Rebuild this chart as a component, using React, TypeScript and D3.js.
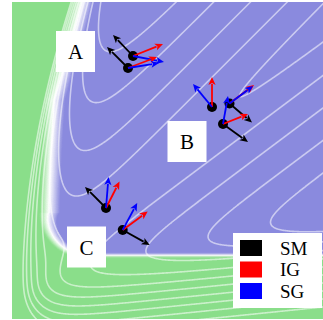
import { useMemo } from "react";
import * as d3 from "d3";

const WIDTH = 323;
const HEIGHT = 320;
const plot = { left: 12, top: 2, right: 323, bottom: 319 };

// data domain of the landscape
const xDomain = [0, 3.11];
const yDomain = [0, 3.17];

// two flanks of the valley meeting on a ridge
const ridgeAnchor = [1.51, 1.56];
const upperFlankNormal = [0.707, -0.707];
const lowerFlankNormal = [0.6, -0.8];
const flankSlope = 3.85;
const baseLevel = -2;

// steep wall on the left, softer wall at the bottom
const leftWallPoly = [0.37, 0.06, 0.045];
const leftWallLength = 0.17;
const bottomWallAnchor = [1.45, 0.58];
const bottomWallTilt = 0.23;
const bottomWallSlope = 15.6;
const bottomWallSoftness = 0.09;

// where the colour turns green
const greenEdgeY = [0, 0.6, 1.19, 1.69, 2.19, 2.69, 3.17];
const greenEdgeX = [0.27, 0.27, 0.28, 0.3, 0.33, 0.48, 0.61];
const greenFloor = 0.61;
const cornerRadius = 0.45;
const leftBand = 0.2;
const bottomBand = 0.05;

const levels = [-14, -13, -12, -11, -10, -9, -8, -7, -6, -5, -4, -3, -2, -1, 0, 1, 2, 3];

// points and their attribution vectors (dx, dy)
const pointX = [1.21, 1.16, 2.0, 2.175, 2.11, 0.94, 1.107];
const pointY = [2.63, 2.51, 2.12, 2.155, 1.95, 1.11, 0.89];
const smDx = [-0.2, -0.21, 0, 0.225, 0.25, -0.21, 0.27];
const smDy = [0.21, 0.21, 0, -0.19, -0.18, 0.21, -0.15];
const igDx = [0.3, 0.29, 0, 0.245, 0.25, 0.135, 0.25];
const igDy = [0.12, 0.11, 0.3, 0.185, 0.1, 0.265, 0.185];
const sgDx = [0.31, 0.31, -0.19, 0.235, 0.05, 0.025, 0.145];
const sgDy = [-0.06, 0.05, 0.23, 0.175, 0.28, 0.31, 0.27];

const regionLabels = ["A", "B", "C"];
const regionX = [0.635, 1.75, 0.745];
const regionY = [2.675, 1.775, 0.72];

const methods = ["SM", "IG", "SG"];
const methodColors = ["#000000", "#ff0000", "#0000ff"];

const BLUE = "#8a8ade";
const GREEN = "#8ade8a";
const FONT = "'Liberation Serif', 'DejaVu Serif', serif";

function softplus(z: number) {
  return z > 30 ? z : Math.log1p(Math.exp(z));
}

function smin(a: number, b: number, k: number) {
  const m = Math.min(a, b);
  return m - k * Math.log(Math.exp((m - a) / k) + Math.exp((m - b) / k));
}

const greenEdge = d3.scaleLinear().domain(greenEdgeY).range(greenEdgeX).clamp(true);
const shadeRamp = d3.scaleLinear().domain([0, 0.45, 1]).range([1, 0.5, 0]).clamp(true);

function landscape(X: number, Y: number) {
  const dx = X - ridgeAnchor[0];
  const dy = Y - ridgeAnchor[1];
  const upper = flankSlope * (upperFlankNormal[0] * dx + upperFlankNormal[1] * dy);
  const lower = -flankSlope * (lowerFlankNormal[0] * dx + lowerFlankNormal[1] * dy);
  const valley = smin(upper, lower, 0.4) + baseLevel;
  const xw = leftWallPoly[0] + leftWallPoly[1] * Y + leftWallPoly[2] * Y * Y;
  const left = Math.exp((xw - X) / leftWallLength);
  const yb = bottomWallAnchor[1] + bottomWallTilt * (X - bottomWallAnchor[0]);
  const bottom = bottomWallSlope * bottomWallSoftness * softplus((yb - Y) / bottomWallSoftness);
  return valley + left + bottom;
}

// 1 = green, 0.5 = white, 0 = blue
function greenness(X: number, Y: number) {
  const xe = greenEdge(Y);
  const cx = greenEdge(greenFloor) + cornerRadius;
  const cy = greenFloor + cornerRadius;
  let dist: number;
  let wb: number;
  if (X < cx && Y < cy) {
    const ddx = X - cx;
    const ddy = Y - cy;
    dist = cornerRadius - Math.hypot(ddx, ddy);
    wb = Math.abs(ddy) / (Math.abs(ddx) + Math.abs(ddy) + 1e-9);
  } else if (X - xe < Y - greenFloor) {
    dist = X - xe;
    wb = 0;
  } else {
    dist = Y - greenFloor;
    wb = 1;
  }
  const w = leftBand * (1 - wb) + bottomBand * wb;
  return shadeRamp(dist / w);
}

function colormap(t: number) {
  return t < 0.5
    ? d3.interpolateRgb(BLUE, "#ffffff")(t * 2)
    : d3.interpolateRgb("#ffffff", GREEN)((t - 0.5) * 2);
}

function Arrow({ x1, y1, x2, y2, color }: { x1: number; y1: number; x2: number; y2: number; color: string }) {
  const len = Math.hypot(x2 - x1, y2 - y1);
  if (len < 1) return null;
  const ux = (x2 - x1) / len;
  const uy = (y2 - y1) / len;
  const head = 8;
  const half = 3.6;
  const bx = x2 - ux * head;
  const by = y2 - uy * head;
  return (
    <g>
      <line x1={x1} y1={y1} x2={bx + ux} y2={by + uy} stroke={color} strokeWidth={1.8} />
      <path
        d={`M${x2},${y2}L${bx - uy * half},${by + ux * half}L${bx + ux * 2},${by + uy * 2}L${bx + uy * half},${by - ux * half}Z`}
        fill={color}
      />
    </g>
  );
}

export default function App() {
  const x = d3.scaleLinear().domain(xDomain).range([plot.left, plot.right]);
  const y = d3.scaleLinear().domain(yDomain).range([plot.bottom, plot.top]);

  const pad = 2;
  const gx0 = plot.left - pad;
  const gy0 = plot.top - pad;
  const nx = plot.right - plot.left + 2 * pad;
  const ny = plot.bottom - plot.top + 2 * pad;

  const { bands, lines } = useMemo(() => {
    const values = new Array(nx * ny);
    const shade = new Array(nx * ny);
    for (let j = 0; j < ny; j++) {
      const Y = y.invert(gy0 + j + 0.5);
      for (let i = 0; i < nx; i++) {
        const X = x.invert(gx0 + i + 0.5);
        values[i + j * nx] = landscape(X, Y);
        shade[i + j * nx] = greenness(X, Y);
      }
    }
    const N = 30;
    const shadeThresholds = d3.range(1, N + 1).map((k) => (k - 0.5) / N);
    const bands = d3
      .contours()
      .size([nx, ny])
      .thresholds(shadeThresholds)(shade)
      .map((c, k) => ({ c, color: colormap((k + 1) / N) }));
    const lines = d3.contours().size([nx, ny]).thresholds(levels)(values);
    return { bands, lines };
  }, []);

  const path = d3.geoPath();

  return (
    <svg width={WIDTH} height={HEIGHT} style={{ position: "absolute", left: 0, top: 0 }}>
      <defs>
        <clipPath id="plot-clip">
          <rect x={plot.left} y={plot.top} width={plot.right - plot.left} height={plot.bottom - plot.top} />
        </clipPath>
      </defs>
      <rect width={WIDTH} height={HEIGHT} fill="#ffffff" />
      <g clipPath="url(#plot-clip)">
        <rect x={plot.left} y={plot.top} width={plot.right - plot.left} height={plot.bottom - plot.top} fill={BLUE} />
        <g transform={`translate(${gx0},${gy0})`}>
          {bands.map((b, k) => (
            <path key={k} d={path(b.c as any) ?? ""} fill={b.color} stroke={b.color} strokeWidth={0.3} />
          ))}
          {lines.map((c, k) => (
            <path key={k} d={path(c as any) ?? ""} fill="none" stroke="#ffffff" strokeOpacity={0.55} strokeWidth={1.6} />
          ))}
        </g>
      </g>

      {pointX.map((px, i) => {
        const cx = x(px);
        const cy = y(pointY[i]);
        return (
          <g key={i}>
            <circle cx={cx} cy={cy} r={5} fill="#000" />
            <Arrow x1={cx} y1={cy} x2={x(px + smDx[i])} y2={y(pointY[i] + smDy[i])} color={methodColors[0]} />
            <Arrow x1={cx} y1={cy} x2={x(px + igDx[i])} y2={y(pointY[i] + igDy[i])} color={methodColors[1]} />
            <Arrow x1={cx} y1={cy} x2={x(px + sgDx[i])} y2={y(pointY[i] + sgDy[i])} color={methodColors[2]} />
          </g>
        );
      })}

      {regionLabels.map((label, i) => (
        <g key={label} transform={`translate(${x(regionX[i])},${y(regionY[i])})`}>
          <rect x={-19.5} y={-20.5} width={39} height={41} fill="#ffffff" />
          <text textAnchor="middle" dy="0.36em" fontFamily={FONT} fontSize={21} fill="#000">
            {label}
          </text>
        </g>
      ))}

      <g transform="translate(233,233)">
        <rect width={89} height={75} fill="#ffffff" />
        {methods.map((m, i) => (
          <g key={m} transform={`translate(0,${7 + i * 21.5})`}>
            <rect x={7} width={22} height={16} fill={methodColors[i]} />
            <text x={47} y={14.5} fontFamily={FONT} fontSize={19} fill="#000">
              {m}
            </text>
          </g>
        ))}
      </g>
    </svg>
  );
}
